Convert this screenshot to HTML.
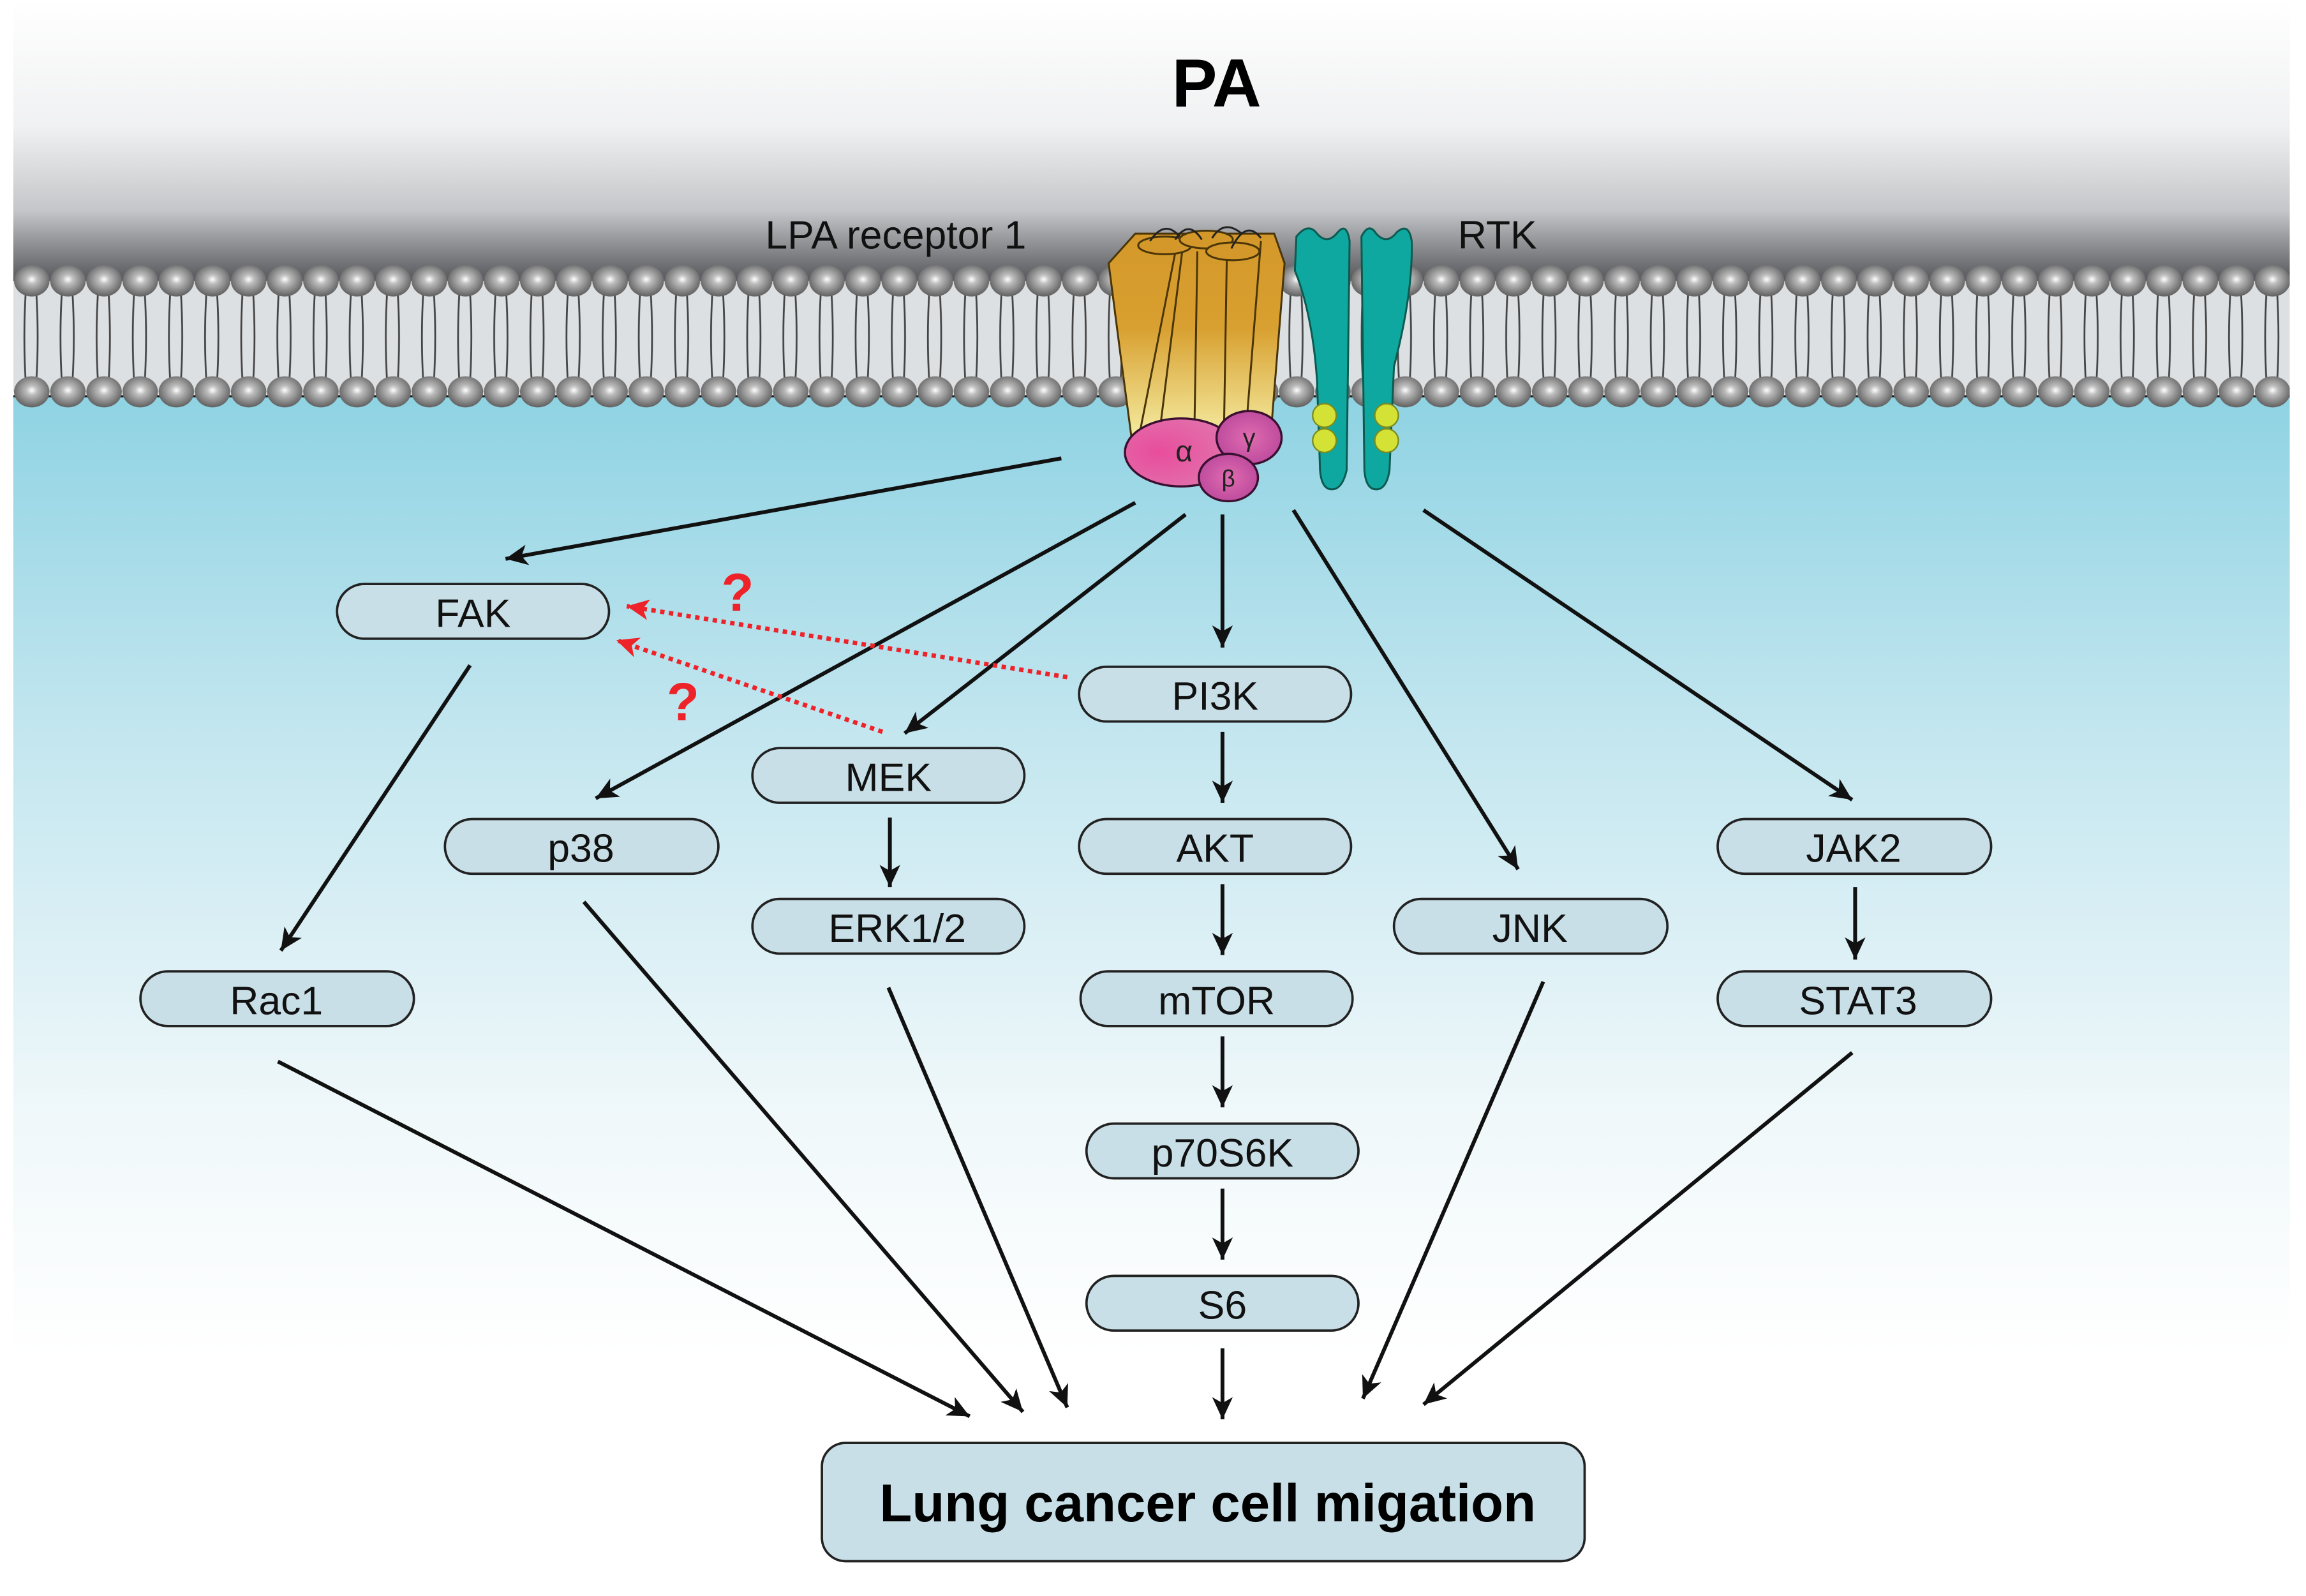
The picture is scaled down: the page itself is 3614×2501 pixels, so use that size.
<!DOCTYPE html>
<html><head><meta charset="utf-8"><style>html,body{margin:0;padding:0;background:#fff}svg{display:block}</style></head>
<body>
<svg xmlns="http://www.w3.org/2000/svg" width="3614" height="2501" viewBox="0 0 1560 1079.5" font-family="Liberation Sans, Arial, sans-serif">
<defs>
<linearGradient id="top" x1="0" y1="0" x2="0" y2="1">
<stop offset="0" stop-color="#ffffff"/><stop offset="0.45" stop-color="#f0f1f2"/><stop offset="0.75" stop-color="#c4c6c9"/><stop offset="1" stop-color="#55575b"/>
</linearGradient>
<linearGradient id="cyt" x1="0" y1="0" x2="0" y2="1">
<stop offset="0" stop-color="#8fd3e3"/><stop offset="0.35" stop-color="#c3e6ef"/><stop offset="0.75" stop-color="#f0f8fa"/><stop offset="1" stop-color="#ffffff"/>
</linearGradient>
<radialGradient id="head" cx="0.5" cy="0.45" r="0.6">
<stop offset="0" stop-color="#ffffff"/><stop offset="0.25" stop-color="#bdbdbd"/><stop offset="0.8" stop-color="#707070"/><stop offset="1" stop-color="#555"/>
</radialGradient>
<pattern id="lipid" patternUnits="userSpaceOnUse" x="9.275" y="178" width="24.45" height="100">
<path d="M8.2,18 Q6.2,50 8.2,82 M15.2,18 Q17.2,50 15.2,82" stroke="#444" stroke-width="1.2" fill="none"/>
<ellipse cx="12.225" cy="12" rx="12" ry="10.5" fill="url(#head)"/>
<ellipse cx="12.225" cy="87" rx="12" ry="10.5" fill="url(#head)"/>
</pattern>
<linearGradient id="gpcr" x1="0" y1="0" x2="0" y2="1">
<stop offset="0" stop-color="#d4982a"/><stop offset="0.45" stop-color="#d8a030"/><stop offset="1" stop-color="#f6f0a8"/>
</linearGradient>
<radialGradient id="pink" cx="0.3" cy="0.5" r="0.8"><stop offset="0" stop-color="#e84d9c"/><stop offset="1" stop-color="#e07ab0"/></radialGradient>
<radialGradient id="purp" cx="0.5" cy="0.5" r="0.6"><stop offset="0" stop-color="#e06cb0"/><stop offset="1" stop-color="#b8459a"/></radialGradient>
<marker id="ah" markerWidth="20" markerHeight="14" refX="15" refY="7" orient="auto" markerUnits="userSpaceOnUse">
<path d="M15,7 L0,0 L4,7 L0,14 z" fill="#111"/></marker>
<marker id="rh" markerWidth="20" markerHeight="14" refX="15" refY="7" orient="auto" markerUnits="userSpaceOnUse">
<path d="M15,7 L0,0 L4,7 L0,14 z" fill="#ee2229"/></marker>
</defs>
<rect x="9" y="0" width="1540" height="190" fill="url(#top)"/>
<rect x="9" y="190" width="1540" height="75" fill="#dde0e3"/>
<rect x="9" y="268" width="1540" height="650" fill="url(#cyt)"/>
<line x1="9" y1="268" x2="1549" y2="268" stroke="#222" stroke-width="1.5"/>
<rect x="9" y="178" width="1540" height="100" fill="url(#lipid)"/>
<!-- GPCR -->
<g stroke="#4a3508" stroke-width="1.3">
<path d="M750,178 L768,158 L862,158 L869,178 L860,290 L790,296 L766,300 L758,240 Z" fill="url(#gpcr)"/>
<path d="M770,298 L796,166 M784,296 L800,168 M808,292 L810,170 M828,292 L830,170 M843,290 L853,163" fill="none"/>
<ellipse cx="788" cy="166" rx="18" ry="6" fill="#d4982a"/>
<ellipse cx="816" cy="162" rx="18" ry="6" fill="#d4982a"/>
<ellipse cx="834" cy="170" rx="18" ry="6" fill="#d4982a"/>
<path d="M795,162 Q804,148 813,162 M820,161 Q828,148 840,158 M833,168 Q843,148 853,161 M778,163 Q788,148 798,160" fill="none" stroke="#222"/>
</g>
<!-- RTK -->
<g fill="#0fa8a0" stroke="#0c5a50" stroke-width="1.3">
<path d="M877,160 Q885,150 891,158 Q898,166 905,157 Q911,150 913,163 L911,318 Q908,331 901,331 Q894,331 893,318 L891,258 Q888,213 876,183 Z"/>
<path d="M921,160 Q926,150 931,158 Q938,166 945,157 Q953,150 955,163 Q956,198 943,248 L940,318 Q938,331 931,331 Q924,331 923,318 Z"/>
</g>
<g fill="#d4e236" stroke="#7a8a20" stroke-width="1">
<circle cx="896" cy="281" r="8"/><circle cx="896" cy="298" r="8"/><circle cx="938" cy="281" r="8"/><circle cx="938" cy="298" r="8"/>
</g>
<!-- G protein -->
<g stroke="#3a1030" stroke-width="1.5">
<ellipse cx="799" cy="306" rx="38" ry="23" fill="url(#pink)"/>
<ellipse cx="845" cy="296" rx="22" ry="18" fill="url(#purp)"/>
<ellipse cx="831" cy="323" rx="20" ry="16" fill="url(#purp)"/>
</g>
<g font-size="20" fill="#222" text-anchor="middle"><text x="801" y="312">α</text><text x="845" y="302" font-size="17">γ</text><text x="831" y="329" font-size="16">β</text></g>
<!-- labels -->
<text x="823" y="72" font-size="46" font-weight="bold" text-anchor="middle" fill="#000">PA</text>
<text x="606" y="168" font-size="27" text-anchor="middle" fill="#111">LPA receptor 1</text>
<text x="1013" y="168" font-size="27" text-anchor="middle" fill="#111">RTK</text>
<!-- arrows -->
<g stroke="#111" stroke-width="2.6" fill="none" marker-end="url(#ah)">
<line x1="718" y1="310" x2="342" y2="378"/>
<line x1="768" y1="340" x2="403" y2="540"/>
<line x1="802" y1="348" x2="612" y2="496"/>
<line x1="827" y1="348" x2="827" y2="438"/>
<line x1="875" y1="345" x2="1027" y2="588"/>
<line x1="963" y1="345" x2="1253" y2="541"/>
<line x1="318" y1="450" x2="190" y2="643"/>
<line x1="827" y1="495" x2="827" y2="543"/>
<line x1="827" y1="598" x2="827" y2="646"/>
<line x1="827" y1="701" x2="827" y2="749"/>
<line x1="827" y1="804" x2="827" y2="852"/>
<line x1="827" y1="912" x2="827" y2="960"/>
<line x1="602" y1="553" x2="602" y2="600"/>
<line x1="1255" y1="600" x2="1255" y2="649"/>
<line x1="188" y1="718" x2="656" y2="958"/>
<line x1="395" y1="610" x2="692" y2="955"/>
<line x1="601" y1="668" x2="722" y2="952"/>
<line x1="1044" y1="664" x2="922" y2="946"/>
<line x1="1253" y1="712" x2="963" y2="950"/>
</g>
<g stroke="#ee2229" stroke-width="3" stroke-dasharray="3,3" fill="none" marker-end="url(#rh)">
<line x1="722" y1="458" x2="424" y2="410"/>
<line x1="597" y1="495" x2="417" y2="433"/>
</g>
<g fill="#ee2229" font-size="36" font-weight="bold" text-anchor="middle"><text x="499" y="413">?</text><text x="462" y="487">?</text></g>
<!-- nodes -->
<g fill="#c8dfe7" stroke="#222" stroke-width="1.6">
<rect x="228" y="395" width="184" height="37" rx="18.5"/>
<rect x="730" y="451" width="184" height="37" rx="18.5"/>
<rect x="509" y="506" width="184" height="37" rx="18.5"/>
<rect x="301" y="554" width="185" height="37" rx="18.5"/>
<rect x="730" y="554" width="184" height="37" rx="18.5"/>
<rect x="1162" y="554" width="185" height="37" rx="18.5"/>
<rect x="509" y="608" width="184" height="37" rx="18.5"/>
<rect x="943" y="608" width="185" height="37" rx="18.5"/>
<rect x="95" y="657" width="185" height="37" rx="18.5"/>
<rect x="731" y="657" width="184" height="37" rx="18.5"/>
<rect x="1162" y="657" width="185" height="37" rx="18.5"/>
<rect x="735" y="760" width="184" height="37" rx="18.5"/>
<rect x="735" y="863" width="184" height="37" rx="18.5"/>
<rect x="556" y="976" width="516" height="80" rx="16"/>
</g>
<g font-size="27" fill="#111" text-anchor="middle">
<text x="320" y="424">FAK</text>
<text x="822" y="480">PI3K</text>
<text x="601" y="535">MEK</text>
<text x="393" y="583">p38</text>
<text x="822" y="583">AKT</text>
<text x="1254" y="583">JAK2</text>
<text x="607" y="637">ERK1/2</text>
<text x="1035" y="637">JNK</text>
<text x="187" y="686">Rac1</text>
<text x="823" y="686">mTOR</text>
<text x="1257" y="686">STAT3</text>
<text x="827" y="789">p70S6K</text>
<text x="827" y="892">S6</text>
</g>
<text x="817" y="1029" font-size="36" font-weight="bold" fill="#000" text-anchor="middle" textLength="444" lengthAdjust="spacingAndGlyphs">Lung cancer cell migation</text>
</svg>
</body></html>
